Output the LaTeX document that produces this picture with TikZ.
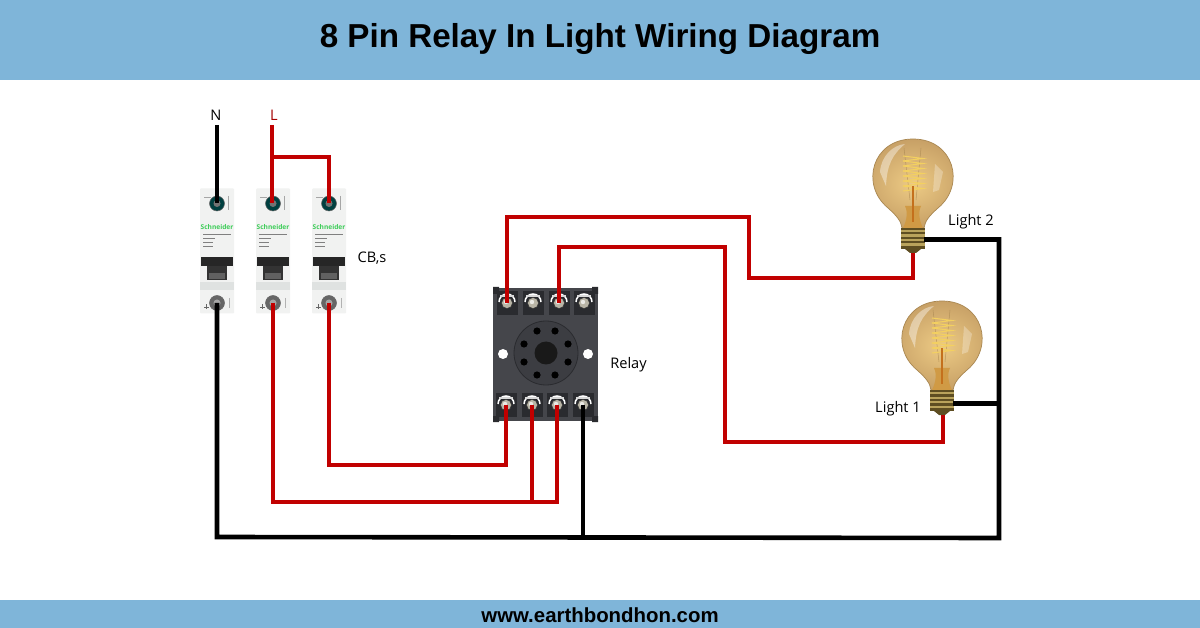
\documentclass[tikz,border=0pt]{standalone}
\usepackage{fontspec}
\setmainfont{Open Sans}
\newfontfamily\titlefont{Liberation Sans}
\newfontfamily\narrowfont{Liberation Sans}
\definecolor{band}{HTML}{7FB5D9}
\definecolor{wirered}{HTML}{C10000}
\definecolor{relaybody}{HTML}{45464B}
\definecolor{relaydark}{HTML}{2A2B2F}
\definecolor{relaysocket}{HTML}{3C3D42}
\definecolor{schgreen}{HTML}{3DCD58}
\definecolor{cbgrey}{HTML}{F1F2F1}
\definecolor{cbshade}{HTML}{DFE2E1}
\definecolor{globeinner}{HTML}{EDCB85}
\definecolor{globeouter}{HTML}{C7A066}
\definecolor{globerim}{HTML}{A98751}
\definecolor{globeneck}{HTML}{D09A45}
\definecolor{brassdark}{HTML}{5E4E22}
\definecolor{brasslight}{HTML}{B9A35C}
\definecolor{filament}{HTML}{F3D060}
\definecolor{filacore}{HTML}{C4701C}
\definecolor{silver}{HTML}{B9B5A6}
\tikzset{
  x=1pt,y=-1pt,
  redwire/.style={draw=wirered,line width=4.6pt,line join=miter},
  blackwire/.style={draw=black,line width=4.6pt,line join=miter},
  lbl/.style={font=\fontsize{14.6}{16}\selectfont,text=black,inner sep=0pt,anchor=center},
  cbbody/.style={fill=cbgrey,draw=none,minimum width=34pt,minimum height=125pt,inner sep=0pt,rounded corners=1pt},
  relaybox/.style={fill=relaybody,draw=none,minimum width=105pt,minimum height=133pt,inner sep=0pt},
  screwnode/.style={circle,fill=silver,minimum size=11pt,inner sep=0pt,draw=black!80,line width=.5pt},
  cbscrew/.style={circle,fill=#1,minimum size=15pt,inner sep=0pt,draw=black!60,line width=.5pt},
  cbscrew/.default=black!60,
  glass/.style={draw=globerim,line width=.7pt,inner color=globeinner,outer color=globeouter},
}
\newcommand{\breaker}[2]{% name, x centre
  \node[cbbody] (#1) at (#2,251) {};
  \fill[cbshade] (#2-17,282) rectangle (#2+17,290);
  \node[cbscrew={black!50!teal}] (#1t) at (#2,203.5) {};
  \fill[black!55] (#2,203.5) circle (3.5pt);
  \node[cbscrew] (#1b) at (#2,303) {};
  \fill[black!35] (#2,303) circle (3.5pt);
  \draw[black!35,line width=.7pt] (#2+11,196) -- ++(0,14) (#2-13,197) -- ++(7,0);
  \node[inner sep=0pt,text=schgreen,font=\bfseries\fontsize{6.6}{7}\selectfont] at (#2,227.5) {Schneider};
  \foreach \yy/\ww in {234/28,238/12,242/10,246/10}
    \draw[black!50,line width=.7pt] (#2-14,\yy) -- ++(\ww,0);
  \fill[black!85] (#2-16,257.5) rectangle (#2+16,266);
  \fill[black!80] (#2-10,266) rectangle (#2+10,280);
  \fill[black!62] (#2-8,273) rectangle (#2+8,279);
  \draw[black!60,line width=.9pt] (#2-13,307) -- ++(5,0) (#2-10.5,304.5) -- ++(0,5);
  \draw[black!30,line width=.8pt] (#2+12,298) -- ++(0,10);
}
\newcommand{\lamp}[3]{% name, x, y of globe centre
  \path[glass] (#2-11,#3+50) .. controls (#2-12,#3+43) and (#2-16,#3+38) .. (#2-25,#3+30)
     .. controls (#2-53,#3+7) and (#2-41,#3-39) .. (#2,#3-39)
     .. controls (#2+41,#3-39) and (#2+53,#3+7) .. (#2+25,#3+30)
     .. controls (#2+16,#3+38) and (#2+12,#3+43) .. (#2+11,#3+50) -- cycle;
  \node[inner sep=0pt,minimum size=0pt] (#1) at (#2,#3) {};
  \fill[white,opacity=.4] (#2-33,#3-6) .. controls (#2-32,#3-22) and (#2-20,#3-33) .. (#2-8,#3-34)
     .. controls (#2-20,#3-24) and (#2-26,#3-14) .. (#2-27,#3+8) -- cycle;
  \fill[white,opacity=.28] (#2+22,#3-14) -- (#2+30,#3-6) -- (#2+26,#3+12) -- (#2+20,#3+14) -- cycle;
  \draw[globerim,line width=.5pt,opacity=.7] (#2-3,#3+22) -- (#2-9,#3-30) (#2+3,#3+22) -- (#2+8,#3-30);
  \foreach \zz in {0,5,10,15,20,25,30}
    \draw[filament,line width=1pt] (#2-10,#3-22+\zz) -- (#2+10,#3-19.5+\zz) -- (#2-10,#3-17+\zz);
  \fill[globeneck] (#2-8,#3+28) .. controls (#2-4,#3+36) and (#2-8,#3+46) .. (#2-10,#3+50)
     -- (#2+10,#3+50) .. controls (#2+8,#3+46) and (#2+4,#3+36) .. (#2+8,#3+28) -- cycle;
  \draw[filacore,line width=2pt] (#2,#3+8) -- (#2,#3+44);
  \fill[brassdark] (#2-12,#3+50) rectangle (#2+12,#3+71);
  \foreach \zz in {52,56.5,61,65.5}
    \fill[brasslight] (#2-12,#3+\zz) rectangle (#2+12,#3+\zz+2.4);
  \fill[brassdark] (#2-8,#3+71) -- (#2+8,#3+71) -- (#2+3,#3+75) -- (#2-3,#3+75) -- cycle;
}
\newcommand{\relayterm}[3]{% name, x, y
  \fill[relaydark] (#2-10.5,#3-12) rectangle (#2+10.5,#3+12);
  \draw[white,line width=1.5pt] (#2-8,#3-1) arc[start angle=180,end angle=360,radius=8];
  \draw[white!85!black,line width=1.2pt] (#2-7,#3-7) -- (#2+7,#3-7);
  \node[screwnode] (#1) at (#2,#3) {};
  \fill[white!70!silver] (#2-1,#3-1) circle (2.2pt);
}
\begin{document}
\begin{tikzpicture}
\useasboundingbox (0,0) rectangle (1200,628);
\fill[white] (0,0) rectangle (1200,628);
\fill[band] (0,0) rectangle (1200,80);
\fill[band] (0,600) rectangle (1200,628);
\node[inner sep=0pt,text=black,font=\titlefont\bfseries\fontsize{33.2}{36}\selectfont] (title) at (600,39) {8 Pin Relay In Light Wiring Diagram};
\node[inner sep=0pt,text=black,font=\narrowfont\bfseries\fontsize{20.4}{24}\selectfont] (site) at (600,615) {www.earthbondhon.com};

% breakers
\breaker{cbA}{217}
\breaker{cbB}{273}
\breaker{cbC}{329}

% relay base
\node[relaybox] (relay) at (545.5,354.5) {};
\fill[relaydark] (493,287) rectangle (499,294) (592,287) rectangle (598,294) (493,416) rectangle (499,422) (592,416) rectangle (598,422);
\relayterm{ra}{507}{303}
\relayterm{rb}{533}{303}
\relayterm{rc}{559}{303}
\relayterm{rd}{584}{303}
\relayterm{re}{506}{405}
\relayterm{rf}{532}{405}
\relayterm{rg}{557}{405}
\relayterm{rh}{583}{405}
\node[circle,fill=relaysocket,draw=relaydark,line width=.8pt,minimum size=64pt,inner sep=0pt] (socket) at (546,353) {};
\node[circle,fill=black!90,minimum size=23pt,inner sep=0pt] (hub) at (546,353) {};
\foreach \dx/\dy in {-9/-22,9/-22,-22/-9,22/-9,-22/9,22/9,-9/22,9/22}
  \fill[black] (546+\dx,353+\dy) circle (3.6pt);
\fill[white] (503,354) circle (5pt) (588,354) circle (5pt);

% lamps
\lamp{bulbB}{913}{178}
\lamp{bulbA}{942}{340}

% named ends and corners of the wires
\coordinate (nIn) at (217,125);
\coordinate (lIn) at (272,125);
\coordinate (lTee) at (272,157);
\coordinate (rTwoA) at (272,502);
\coordinate (rOne) at (330,465);
\coordinate (tA) at (507,217);
\coordinate (tB) at (749,278);
\coordinate (tC) at (558,247);
\coordinate (tD) at (725,442);
\coordinate (bA) at (217,537);
\coordinate (bB) at (999,538);
\coordinate (bC) at (583,537);
\coordinate (lamp2N) at (924,239.5);
\coordinate (lamp1N) at (953,403.5);
\coordinate (lamp2L) at (913,253);
\coordinate (lamp1L) at (943,415);
\coordinate (busN) at (999,239.5);
\coordinate (busJ) at (999,403.5);

% neutral
\draw[blackwire] (nIn) -- (cbA.center |- cbAt.center);
\draw[blackwire] (cbAb.center) -- (bA) -- (bB) -- (busN) -- (lamp2N);
\draw[blackwire] (lamp1N) -- (busJ);
\draw[blackwire] (rh.center) -- (bC);
% live
\draw[redwire] (lIn) -- (cbBt.center -| lIn);
\draw[redwire] (lTee) -| (cbCt.center);
\draw[redwire] (cbBb.center) |- (rTwoA -| rg.center) -- (rg.center);
\draw[redwire] (rf.center) -- (rf.center |- rTwoA);
\draw[redwire] (cbCb.center) |- (rOne -| re.center) -- (re.center);
\draw[redwire] (ra.center) |- (tB |- tA) -- (tB) -- (tB -| lamp2L) -- (lamp2L);
\draw[redwire] (rc.center) -- (rc.center |- tC) -- (tD |- tC) -- (tD) -- (tD -| lamp1L) -- (lamp1L);

% labels
\node[lbl] (labN) at (216,115.5) {N};
\node[lbl,text=wirered!85!black] (labL) at (274,115.5) {L};
\node[lbl] (labCB) at (372,258) {CB,s};
\node[lbl] (labRelay) at (628.5,365) {Relay};
\node[lbl] (labL2) at (971,222) {Light 2};
\node[lbl] (labL1) at (898,409) {Light 1};
\end{tikzpicture}
\end{document}
